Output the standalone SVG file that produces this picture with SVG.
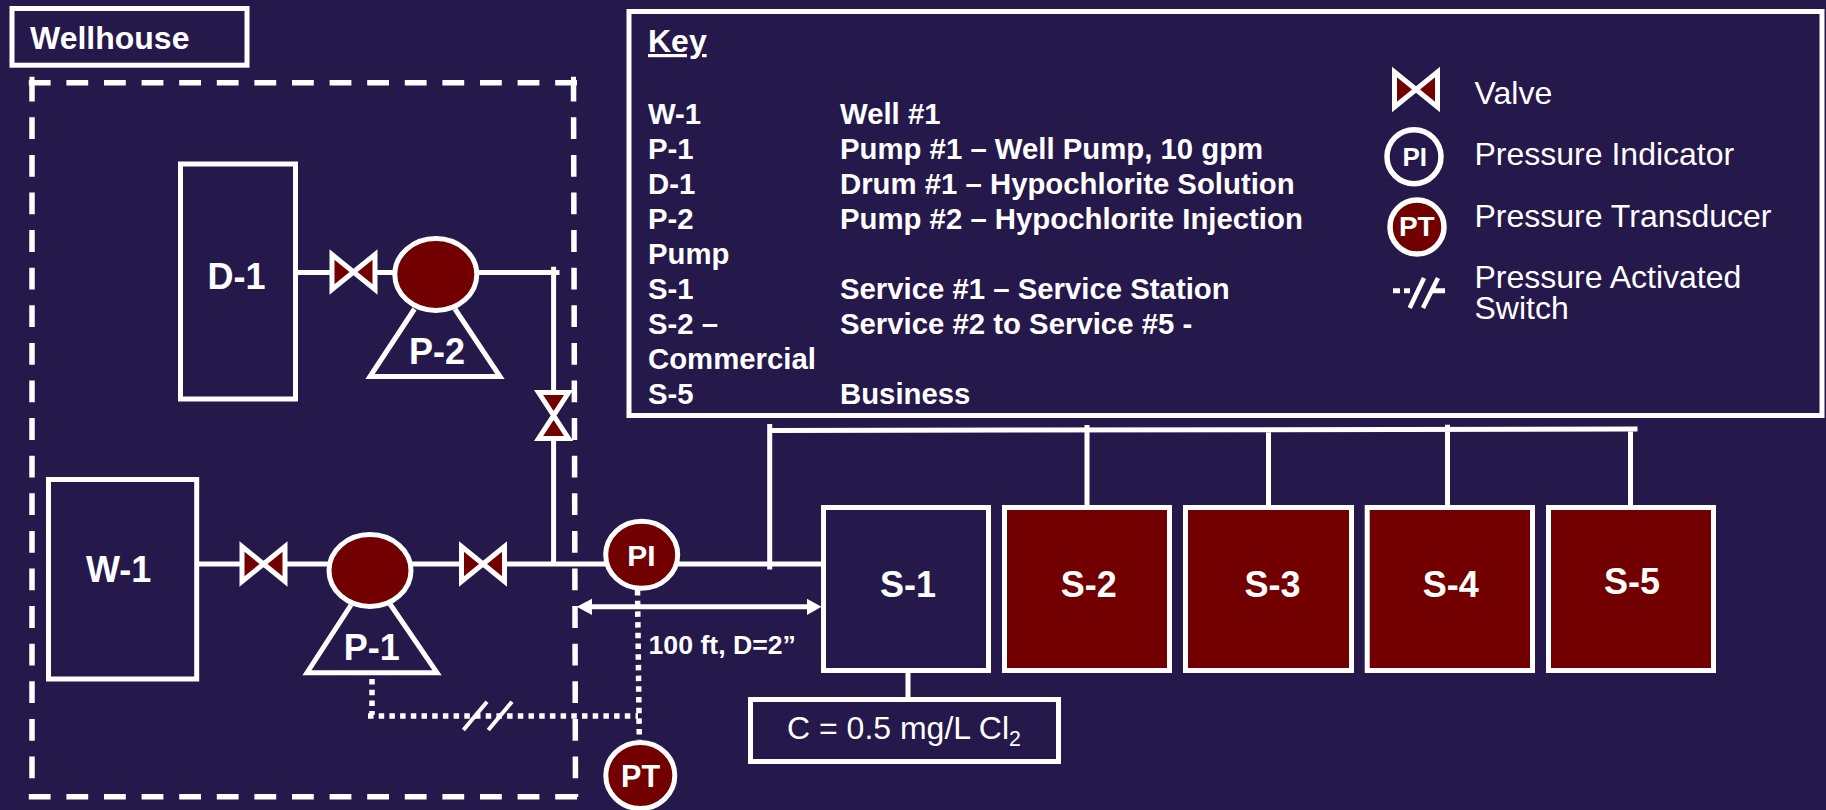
<svg xmlns="http://www.w3.org/2000/svg" width="1826" height="810" viewBox="0 0 1826 810">
<style>
text{font-family:"Liberation Sans",Arial,sans-serif;fill:#fff}
.b{font-weight:700}
.n{font-weight:700;font-size:36px;text-anchor:middle}
.k{font-weight:700;font-size:29.33px}
.l{font-size:32px}
.box{fill:none;stroke:#fff;stroke-width:5}
.red{fill:#720000;stroke:#fff;stroke-width:5}
.pipe{fill:none;stroke:#fff;stroke-width:5}
.dash{fill:none;stroke:#fff;stroke-width:5.5;stroke-dasharray:21.8 15.8}
.dot{fill:none;stroke:#fff;stroke-width:5.5;stroke-dasharray:5.5 5.2}
.thin{fill:none;stroke:#fff;stroke-width:4}
</style>
<defs>
<polygon id="valve" points="-21.5,-17.5 21.5,17.5 21.5,-17.5 -21.5,17.5" fill="#720000" stroke="#fff" stroke-width="5"/>
</defs>
<rect width="1826" height="810" fill="#25184a"/>
<g id="wellhouse-frame">
<path class="dash" d="M28.8 82.7H578M28.8 796.7H578"/>
<path class="dash" d="M32 79.7V797M573.5 79.7L575.5 797"/>
<path class="pipe" d="M32 76.7V82M573.5 76.7V82"/>
</g>
<g id="connectors">
<path class="pipe" d="M298 272.5H330M375 272.5H394M477 272.5H559.5M553.6 266.7V392M553.6 439V566"/>
<path class="pipe" d="M197 564H242M285 564H328M412 564H461M505 564H606M678 564H822"/>
<path class="pipe" d="M769.7 424V569.5M770 430.5L1637.5 429M1087 425V505M1268.5 431V505M1447.5 424.7V505M1630.5 431V505M908 672V698"/>
<path class="dot" d="M372 679V715M368 716H638M637.5 590L639.3 740"/>
<path class="thin" d="M463.4 730L487 701.7M488.3 730L512 701.7"/>
<path class="pipe" d="M590 606.7H810"/>
<polygon points="576.7,606.7 592,598.7 592,615" fill="#fff"/>
<polygon points="821.5,606.7 807,598.7 807,615" fill="#fff"/>
</g>
<g id="label-wellhouse"><rect class="box" x="12" y="8.5" width="235" height="56.7"/><text class="b" x="30" y="49" font-size="32">Wellhouse</text></g>
<g id="D-1"><rect class="box" x="180.5" y="164" width="115" height="235"/><text class="n" x="236.5" y="288.5">D-1</text></g>
<g id="V-D"><use href="#valve" x="353.5" y="272"/></g>
<g id="P-2"><path class="box" d="M414.5 309L370 376.5H500L455 309"/><ellipse class="red" cx="435.8" cy="274.5" rx="41" ry="36"/><text class="n" x="437" y="364">P-2</text></g>
<g id="V-I"><polygon points="538.6,392.5 568.6,392.5 538.6,438.5 568.6,438.5" fill="#720000" stroke="#fff" stroke-width="5"/></g>
<g id="W-1"><rect class="box" x="48.5" y="479.5" width="148.2" height="199.5"/><text class="n" x="118.6" y="581.7">W-1</text></g>
<g id="V-1"><use href="#valve" x="263.5" y="564"/></g>
<g id="P-1"><path class="box" d="M351 605L307 672.7H437L390 604"/><ellipse class="red" cx="370" cy="570.5" rx="41" ry="36"/><text class="n" x="371.7" y="660">P-1</text></g>
<g id="V-2"><use href="#valve" x="483" y="564"/></g>
<g id="PI"><ellipse class="red" cx="641.7" cy="554.8" rx="36" ry="33.5"/><text class="b" x="641.5" y="565.5" font-size="30" text-anchor="middle">PI</text></g>
<g id="PT"><ellipse class="red" cx="640.3" cy="775.5" rx="34.5" ry="33"/><text class="b" x="640.6" y="786.7" font-size="30.5" text-anchor="middle">PT</text></g>
<text id="dim" class="b" x="648.5" y="654" font-size="26.67">100 ft, D=2”</text>
<g id="S-1"><rect class="box" x="823.5" y="507.5" width="165" height="163"/><text class="n" x="908" y="596.7">S-1</text></g>
<g id="S-2"><rect class="red" x="1004.5" y="507.5" width="165" height="163"/><text class="n" x="1088.7" y="596.7">S-2</text></g>
<g id="S-3"><rect class="red" x="1185.5" y="507.5" width="166" height="163"/><text class="n" x="1272.4" y="596.7">S-3</text></g>
<g id="S-4"><rect class="red" x="1367.2" y="507.5" width="165.3" height="163"/><text class="n" x="1450.7" y="596.7">S-4</text></g>
<g id="S-5"><rect class="red" x="1548.5" y="507.5" width="165" height="163"/><text class="n" x="1632" y="594">S-5</text></g>
<g id="conc"><rect class="box" x="750.5" y="699.5" width="308" height="62"/><text x="787" y="739" font-size="32">C = 0.5 mg/L Cl<tspan font-size="21.3" dy="7">2</tspan></text></g>
<g id="key">
<rect class="box" x="629" y="11.5" width="1193" height="404"/>
<text class="b" x="648" y="52" text-decoration="underline" font-size="32">Key</text>
<g>
<text class="k" x="648" y="124">W-1</text><text class="k" x="840" y="124">Well #1</text>
<text class="k" x="648" y="159">P-1</text><text class="k" x="840" y="159">Pump #1 – Well Pump, 10 gpm</text>
<text class="k" x="648" y="194.3">D-1</text><text class="k" x="840" y="194.3">Drum #1 – Hypochlorite Solution</text>
<text class="k" x="648" y="229">P-2</text><text class="k" x="840" y="229">Pump #2 – Hypochlorite Injection</text>
<text class="k" x="648" y="264.3">Pump</text>
<text class="k" x="648" y="299.3">S-1</text><text class="k" x="840" y="299.3">Service #1 – Service Station</text>
<text class="k" x="648" y="334.3">S-2 –</text><text class="k" x="840" y="334.3">Service #2 to Service #5 -</text>
<text class="k" x="648" y="369.3">Commercial</text>
<text class="k" x="648" y="404.3">S-5</text><text class="k" x="840" y="404.3">Business</text>
</g>
<use href="#valve" x="1416" y="89.5"/>
<text class="l" x="1474.5" y="104">Valve</text>
<circle cx="1414" cy="156.7" r="27" fill="#25184a" stroke="#fff" stroke-width="5.5"/>
<text class="b" x="1414.8" y="165.7" font-size="26" text-anchor="middle">PI</text>
<text class="l" x="1474.5" y="165">Pressure Indicator</text>
<circle cx="1417" cy="227" r="27" fill="#720000" stroke="#fff" stroke-width="5.5"/>
<text class="b" x="1416.8" y="236" font-size="28" text-anchor="middle">PT</text>
<text class="l" x="1474.5" y="227">Pressure Transducer</text>
<path class="pipe" d="M1393 290.7H1400M1404 290.7H1410M1432.5 290.7H1445"/>
<path class="thin" style="stroke-width:4.5" d="M1409.7 308L1424 278M1423 308L1438 278"/>
<text class="l" x="1474.5" y="288">Pressure Activated</text>
<text class="l" x="1474.5" y="319">Switch</text>
</g>
</svg>
